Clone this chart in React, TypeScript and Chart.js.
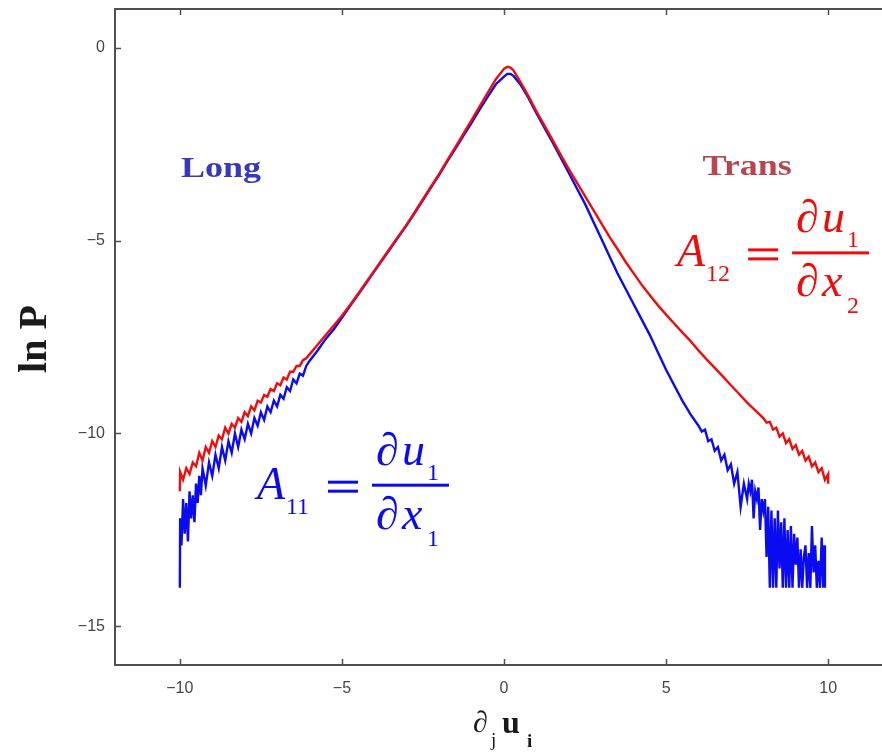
import React, { useEffect, useRef } from "react";
import { Chart, registerables } from "chart.js";

Chart.register(...registerables);

// ---- Data ----
const longX = [
  -10.0, -9.99, -9.95, -9.9, -9.85, -9.8, -9.75, -9.7, -9.65, -9.6, -9.55, -9.5, -9.45, -9.4, -9.35, -9.3,
  -9.2, -9.1, -9.0, -8.9, -8.8, -8.7, -8.6, -8.5, -8.4, -8.3, -8.2, -8.1, -8.0,
  -7.9, -7.8, -7.7, -7.6, -7.5, -7.4, -7.3, -7.2, -7.1, -7.0,
  -6.9, -6.8, -6.7, -6.6, -6.5, -6.4, -6.3, -6.2, -6.1, -6.0,
  -5.75, -5.5, -5.25, -5.0, -4.75, -4.5, -4.25, -4.0, -3.75, -3.5, -3.25, -3.0, -2.75, -2.5, -2.25, -2.0,
  -1.75, -1.5, -1.25, -1.0, -0.75, -0.5, -0.25,
  0.0, 0.1, 0.2, 0.3, 0.5, 0.75, 1.0, 1.25, 1.5, 1.75, 2.0, 2.25, 2.5, 2.75, 3.0, 3.25, 3.5, 3.75, 4.0,
  4.25, 4.5, 4.75, 5.0, 5.25, 5.5, 5.75, 6.0,
  6.1, 6.2, 6.3, 6.4, 6.5, 6.6, 6.7, 6.8, 6.9, 7.0,
  7.1, 7.2, 7.3, 7.4,
  7.5, 7.55, 7.6, 7.65, 7.7, 7.75, 7.8, 7.85, 7.9, 7.95,
  8.0, 8.05, 8.1, 8.15, 8.2, 8.25, 8.3, 8.35, 8.4, 8.45,
  8.5, 8.55, 8.6, 8.65, 8.7, 8.75, 8.8, 8.85, 8.9, 8.95,
  9.0, 9.05, 9.1, 9.15, 9.2, 9.25, 9.3, 9.35, 9.4, 9.45,
  9.5, 9.55, 9.6, 9.65, 9.7, 9.75, 9.8, 9.85, 9.88, 9.9,
];
const longY = [
  -14.0, -12.2, -12.9, -11.7, -12.6, -11.8, -12.8, -11.5, -12.2, -11.6, -12.3, -11.3, -11.8, -11.1, -11.6, -10.9,
  -11.35, -10.75, -11.1, -10.55, -10.9, -10.35, -10.7, -10.2, -10.5, -10.0, -10.35, -9.9, -10.15,
  -9.75, -10.0, -9.6, -9.8, -9.45, -9.65, -9.3, -9.45, -9.15, -9.3,
  -9.0, -9.1, -8.8, -8.9, -8.6, -8.7, -8.45, -8.5, -8.25, -8.12,
  -7.85, -7.55, -7.3, -7.0, -6.7, -6.4, -6.1, -5.8, -5.5, -5.2, -4.9, -4.6, -4.28, -3.95, -3.62, -3.3,
  -2.95, -2.62, -2.28, -1.95, -1.6, -1.27, -0.95,
  -0.75, -0.68, -0.68, -0.74, -0.95, -1.3, -1.7, -2.08, -2.46, -2.85, -3.25, -3.65, -4.05, -4.5, -4.95, -5.4, -5.85, -6.25, -6.65,
  -7.05, -7.45, -7.9, -8.35, -8.75, -9.15, -9.5, -9.8,
  -9.95, -9.9, -10.2, -10.15, -10.45, -10.35, -10.7, -10.55, -10.95, -10.8,
  -11.3, -11.0, -11.9, -11.3,
  -11.7, -11.3, -11.5, -11.2, -12.2, -11.5, -11.7, -11.4, -12.5, -11.7,
  -12.0, -11.7, -13.2, -11.9, -14.0, -12.0, -14.0, -12.2, -14.0, -12.0,
  -13.5, -12.3, -14.0, -12.2, -14.0, -12.5, -14.0, -12.4, -14.0, -12.6,
  -13.4, -12.7, -14.0, -13.0, -14.0, -13.2, -12.9, -14.0, -13.1, -14.0,
  -12.4, -13.6, -12.9, -14.0, -13.3, -14.0, -12.7, -14.0, -12.9, -14.0,
];

const transX = [
  -10.0, -9.99, -9.9, -9.8, -9.7, -9.6, -9.5, -9.4, -9.3, -9.2, -9.1, -9.0,
  -8.9, -8.8, -8.7, -8.6, -8.5, -8.4, -8.3, -8.2, -8.1, -8.0,
  -7.9, -7.8, -7.7, -7.6, -7.5, -7.4, -7.3, -7.2, -7.1, -7.0,
  -6.9, -6.8, -6.7, -6.6, -6.5, -6.4, -6.3, -6.2, -6.1, -6.0,
  -5.75, -5.5, -5.25, -5.0, -4.75, -4.5, -4.25, -4.0, -3.75, -3.5, -3.25, -3.0, -2.75, -2.5, -2.25, -2.0,
  -1.75, -1.5, -1.25, -1.0, -0.75, -0.5, -0.25,
  0.0, 0.1, 0.2, 0.3,
  0.5, 0.75, 1.0, 1.25, 1.5, 1.75, 2.0, 2.25, 2.5, 2.75, 3.0, 3.25, 3.5, 3.75, 4.0, 4.25, 4.5, 4.75,
  5.0, 5.25, 5.5, 5.75, 6.0, 6.25, 6.5, 6.75, 7.0, 7.25, 7.5, 7.75, 8.0,
  8.1, 8.2, 8.3, 8.4, 8.5, 8.6, 8.7, 8.8, 8.9, 9.0,
  9.1, 9.2, 9.3, 9.4, 9.5, 9.6, 9.7, 9.8, 9.9, 10.0, 10.0,
];
const transY = [
  -11.5, -11.0, -11.2, -10.9, -11.05, -10.75, -10.85, -10.5, -10.7, -10.35, -10.5, -10.2,
  -10.35, -10.05, -10.15, -9.85, -10.0, -9.75, -9.85, -9.6, -9.7, -9.45,
  -9.55, -9.3, -9.4, -9.15, -9.2, -9.0, -9.05, -8.85, -8.9, -8.7,
  -8.75, -8.55, -8.6, -8.4, -8.4, -8.25, -8.25, -8.1, -8.05, -7.95,
  -7.7, -7.45, -7.2, -6.95, -6.67, -6.38, -6.08, -5.78, -5.48, -5.18, -4.88, -4.58, -4.26, -3.93, -3.6, -3.27,
  -2.92, -2.58, -2.23, -1.88, -1.52, -1.17, -0.82,
  -0.55, -0.5, -0.52, -0.6,
  -0.88, -1.25, -1.65, -2.02, -2.4, -2.78, -3.15, -3.5, -3.85, -4.2, -4.55, -4.9, -5.22, -5.55, -5.85, -6.15, -6.42, -6.68,
  -6.92, -7.15, -7.38, -7.6, -7.85, -8.08, -8.3, -8.52, -8.75, -8.97, -9.2, -9.4, -9.6,
  -9.72, -9.7, -9.9, -9.85, -10.08, -10.0, -10.25, -10.15, -10.4, -10.3,
  -10.55, -10.45, -10.7, -10.6, -10.85, -10.75, -11.0, -10.9, -11.2, -11.05, -11.3,
];

const xTicks = [-10, -5, 0, 5, 10];
const yTicks = [-15, -10, -5, 0];
const xRange = [-12, 12];
const yRange = [-16, 1];

// annotation anchors, in data units
const longLabelAt = { x: -8.73, y: -3.35 };
const transLabelAt = { x: 7.5, y: -3.3 };
const longFormulaAt = { x: -7.62, y: -11.69 };
const transFormulaAt = { x: 5.34, y: -5.67 };

const SERIF = '"Liberation Serif", "Times New Roman", "DejaVu Serif", serif';
const SANS = '"Liberation Sans", Arial, "DejaVu Sans", sans-serif';
const BLUE = "#0b0bf2";
const RED = "#f20b0b";

function fmtTick(v: number): string {
  return v < 0 ? "\u2212" + Math.abs(v) : String(v);
}

function drawFormula(ctx: CanvasRenderingContext2D, left: number, base: number, color: string, sub: string, denSub: string) {
  ctx.save();
  ctx.fillStyle = color;
  ctx.textAlign = "left";
  ctx.textBaseline = "alphabetic";
  const big = `italic 46px ${SERIF}`;
  const small = `24px ${SERIF}`;
  ctx.font = big;
  ctx.fillText("A", left, base);
  ctx.font = small;
  ctx.fillText(sub, left + 29, base + 15);
  // "=" sign
  ctx.fillRect(left + 71, base - 18, 30, 3);
  ctx.fillRect(left + 71, base - 9, 30, 3);
  // fraction bar
  ctx.fillRect(left + 115, base - 15, 77, 3);
  ctx.font = big;
  ctx.fillText("\u2202", left + 119, base - 34);
  ctx.fillText("u", left + 145, base - 34);
  ctx.font = small;
  ctx.fillText("1", left + 170, base - 19);
  ctx.font = big;
  ctx.fillText("\u2202", left + 119, base + 30);
  ctx.fillText("x", left + 145, base + 30);
  ctx.font = small;
  ctx.fillText(denSub, left + 170, base + 47);
  ctx.restore();
}

function drawStretched(ctx: CanvasRenderingContext2D, text: string, cx: number, base: number, font: string, color: string, sx: number) {
  ctx.save();
  ctx.translate(cx, base);
  ctx.scale(sx, 1);
  ctx.font = font;
  ctx.fillStyle = color;
  ctx.textAlign = "center";
  ctx.textBaseline = "alphabetic";
  ctx.fillText(text, 0, 0);
  ctx.restore();
}

const decorPlugin = {
  id: "decor",
  afterDraw(chart: any) {
    const { ctx, chartArea: a, scales } = chart;
    const xs = scales.x;
    const ys = scales.y;
    ctx.save();
    // axis box
    ctx.strokeStyle = "#505050";
    ctx.lineWidth = 2;
    ctx.beginPath();
    ctx.moveTo(a.right, a.top);
    ctx.lineTo(a.left, a.top);
    ctx.lineTo(a.left, a.bottom);
    ctx.lineTo(a.right, a.bottom);
    ctx.lineTo(a.right, a.top);
    ctx.stroke();
    // inward tick marks
    ctx.lineWidth = 1.5;
    ctx.beginPath();
    for (const v of xTicks) {
      const px = Math.round(xs.getPixelForValue(v)) + 0.5;
      ctx.moveTo(px, a.bottom);
      ctx.lineTo(px, a.bottom - 6);
      ctx.moveTo(px, a.top);
      ctx.lineTo(px, a.top + 6);
    }
    for (const v of yTicks) {
      const py = Math.round(ys.getPixelForValue(v)) + 0.5;
      ctx.moveTo(a.left, py);
      ctx.lineTo(a.left + 6, py);
    }
    ctx.stroke();
    ctx.restore();

    // labels
    drawStretched(ctx, "Long", xs.getPixelForValue(longLabelAt.x), ys.getPixelForValue(longLabelAt.y),
      `bold 30px ${SERIF}`, "#3838bf", 1.2);
    drawStretched(ctx, "Trans", xs.getPixelForValue(transLabelAt.x), ys.getPixelForValue(transLabelAt.y),
      `bold 30px ${SERIF}`, "#b8454f", 1.2);

    drawFormula(ctx, xs.getPixelForValue(longFormulaAt.x), ys.getPixelForValue(longFormulaAt.y), BLUE, "11", "1");
    drawFormula(ctx, xs.getPixelForValue(transFormulaAt.x), ys.getPixelForValue(transFormulaAt.y), RED, "12", "2");

    // y axis title
    ctx.save();
    ctx.translate(36, (a.top + a.bottom) / 2 + 2);
    ctx.rotate(-Math.PI / 2);
    ctx.font = `bold 40px ${SERIF}`;
    ctx.fillStyle = "#1a1a1a";
    ctx.textAlign = "center";
    ctx.textBaseline = "middle";
    ctx.fillText("ln P", 0, 0);
    ctx.restore();

    // x axis title: ∂_j u_i
    const cx = xs.getPixelForValue(0);
    const by = a.bottom + 67;
    ctx.save();
    ctx.fillStyle = "#1a1a1a";
    ctx.textAlign = "left";
    ctx.textBaseline = "alphabetic";
    ctx.font = `30px ${SERIF}`;
    ctx.fillText("\u2202", cx - 31, by);
    ctx.font = `19px ${SERIF}`;
    ctx.fillText("j", cx - 13, by + 14);
    ctx.font = `bold 32px ${SERIF}`;
    ctx.fillText("u", cx - 2, by + 1);
    ctx.font = `bold 19px ${SERIF}`;
    ctx.fillText("i", cx + 23, by + 15);
    ctx.restore();
  },
};

export default function App() {
  const canvasRef = useRef<HTMLCanvasElement | null>(null);

  useEffect(() => {
    const canvas = canvasRef.current;
    if (!canvas) return;
    const longData = longX.map((x, i) => ({ x, y: longY[i] }));
    const transData = transX.map((x, i) => ({ x, y: transY[i] }));
    const chart = new Chart(canvas, {
      type: "scatter",
      data: {
        datasets: [
          {
            label: "Trans",
            data: transData,
            showLine: true,
            borderColor: RED,
            backgroundColor: RED,
            borderWidth: 2.4,
            pointRadius: 0,
            tension: 0,
          },
          {
            label: "Long",
            data: longData,
            showLine: true,
            borderColor: BLUE,
            backgroundColor: BLUE,
            borderWidth: 2.4,
            pointRadius: 0,
            tension: 0,
          },
        ],
      },
      options: {
        responsive: false,
        animation: false,
        devicePixelRatio: 1,
        layout: { padding: { left: 0, right: 7, top: 9, bottom: 0 } },
        plugins: { legend: { display: false }, tooltip: { enabled: false } },
        scales: {
          x: {
            type: "linear",
            min: xRange[0],
            max: xRange[1],
            grid: { display: false, drawTicks: false },
            border: { display: false },
            afterBuildTicks: (axis: any) => {
              axis.ticks = xTicks.map((v) => ({ value: v }));
            },
            afterFit: (axis: any) => {
              axis.height = 91;
              axis.paddingLeft = 0;
              axis.paddingRight = 0;
            },
            ticks: {
              padding: 14,
              color: "#454545",
              font: { family: SANS, size: 16 },
              maxRotation: 0,
              callback: (v: any) => fmtTick(Number(v)),
            },
          },
          y: {
            type: "linear",
            min: yRange[0],
            max: yRange[1],
            grid: { display: false, drawTicks: false },
            border: { display: false },
            afterBuildTicks: (axis: any) => {
              axis.ticks = yTicks.map((v) => ({ value: v }));
            },
            afterFit: (axis: any) => {
              axis.width = 115;
              axis.paddingTop = 0;
              axis.paddingBottom = 0;
            },
            ticks: {
              padding: 10,
              color: "#454545",
              font: { family: SANS, size: 16 },
              callback: (v: any) => fmtTick(Number(v)),
            },
          },
        },
      },
      plugins: [decorPlugin],
    } as any);
    return () => chart.destroy();
  }, []);

  return (
    <div
      style={{
        position: "fixed",
        left: 0,
        top: 0,
        width: 882,
        height: 756,
        overflow: "hidden",
        background: "#ffffff",
      }}
    >
      <canvas
        ref={canvasRef}
        width={900}
        height={756}
        style={{ display: "block", width: 900, height: 756 }}
      />
    </div>
  );
}
